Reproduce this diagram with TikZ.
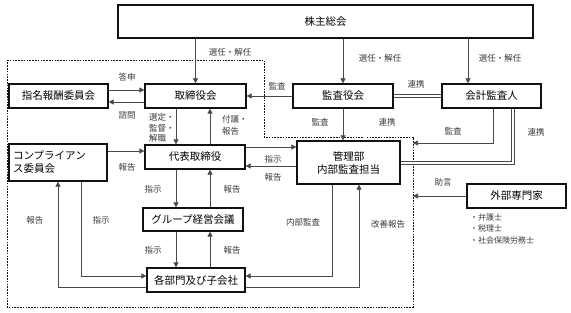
\documentclass[tikz,border=0pt]{standalone}
\usepackage{fontspec}
\setmainfont{Noto Sans CJK JP}
\usepackage{xcolor}
\usepackage{tikz}
\usetikzlibrary{arrows.meta,calc}
\definecolor{Ink}{HTML}{111111}
\definecolor{Wire}{HTML}{4A4A4A}
\definecolor{Muted}{HTML}{3A3A3A}

\begin{document}
\begin{tikzpicture}[x=1pt,y=-1pt,
  box/.style={draw=Ink,line width=1.2pt,fill=white,inner sep=0pt,font=\fontsize{10.5}{13}\selectfont},
  tag/.style={inner sep=0pt,font=\fontsize{8.5}{11}\selectfont\color{Muted}},
  edge/.style={-{Triangle[length=5pt,width=5pt]},draw=Wire,line width=0.7pt},
  link/.style={draw=Wire,line width=0.6pt,double,double distance=2.6pt},
  boundary/.style={draw=Ink,line width=0.6pt,dash pattern=on 1.6pt off 1.2pt}
]
  \useasboundingbox (0,0) rectangle (571,313);
  % group boundary
  \draw[boundary] (7,60) -- (264,60) -- (264,137) -- (413,137) -- (413,307) -- (7,307) -- cycle;
  \coordinate (bnd) at (413,0);
  % boxes
  \node[box,minimum width=415pt,minimum height=33pt] (gm) at (325.5,21.5) {株主総会};
  \node[box,minimum width=101pt,minimum height=24pt] (board) at (195.5,96) {取締役会};
  \node[box,minimum width=99pt,minimum height=24pt] (nomcom) at (58.5,96) {指名報酬委員会};
  \node[box,minimum width=100pt,minimum height=24pt] (audcom) at (343,96) {監査役会};
  \node[box,minimum width=99pt,minimum height=24pt] (accaud) at (491.5,96) {会計監査人};
  \node[box,minimum width=100pt,minimum height=24pt] (ceo) at (195,157) {代表取締役};
  \node[box,minimum width=103pt,minimum height=43pt,align=center] (admin) at (348.5,162.5) {管理部\\内部監査担当};
  \node[box,minimum width=98pt,minimum height=37pt,text width=90pt,align=left] (comp) at (58,162.5) {コンプライアン\\ス委員会};
  \node[box,minimum width=100pt,minimum height=23pt] (group) at (193,219.5) {グループ経営会議};
  \node[box,minimum width=98pt,minimum height=24pt] (depts) at (196,280) {各部門及び子会社};
  \node[box,minimum width=99pt,minimum height=24pt] (expert) at (516.5,196) {外部専門家};
  % lanes
  \coordinate (down) at (176,0);
  \coordinate (up) at (210,0);
  % shareholders
  \draw[edge] (board.north |- gm.south) -- (board.north);
  \draw[edge] (audcom.north |- gm.south) -- (audcom.north);
  \draw[edge] (468,0 |- gm.south) -- (468,0 |- accaud.north);
  \node[tag] (t1) at (230,52) {選任・解任};
  \node[tag] (t2) at (380,58) {選任・解任};
  \node[tag] (t3) at (500,58) {選任・解任};
  % nomination committee
  \draw[edge] (nomcom.east |- 0,90) -- (board.west |- 0,90);
  \draw[edge] (board.west |- 0,102) -- (nomcom.east |- 0,102);
  \node[tag] (t4) at (127,77) {答申};
  \node[tag] (t5) at (127,115) {諮問};
  % auditors
  \draw[edge] (audcom.west) -- (board.east);
  \node[tag] (t6) at (277,86) {監査};
  \draw[link] (audcom.east) -- (accaud.west);
  \node[tag] (t7) at (416,84) {連携};
  \draw[edge] (audcom.south) -- (audcom.south |- admin.north);
  \node[tag] (t8) at (320,122) {監査};
  \draw[link] (365.5,0 |- audcom.south) -- (365.5,0 |- admin.north);
  \node[tag] (t9) at (387,122) {連携};
  \draw[edge] (493,0 |- accaud.south) |- (bnd |- 0,143);
  \node[tag] (t10) at (453,131) {監査};
  \draw[link] (513,0 |- accaud.south) |- (admin.east |- 0,163);
  \node[tag] (t11) at (536,132) {連携};
  % board and ceo
  \draw[edge] (down |- board.south) -- (down |- ceo.north);
  \node[tag,anchor=west,align=left,font=\fontsize{8.5}{10.5}\selectfont\color{Muted}] (t12) at (149,128) {選定・\\監督・\\解職};
  \draw[edge] (up |- ceo.north) -- (up |- board.south);
  \node[tag,anchor=west,align=left,font=\fontsize{8.5}{12}\selectfont\color{Muted}] (t13) at (222,125) {付議・\\報告};
  \draw[edge] (comp.east |- 0,151) -- (ceo.west |- 0,151);
  \node[tag] (t14) at (127,167) {報告};
  \draw[edge] (ceo.east |- 0,147) -- (admin.west |- 0,147);
  \node[tag] (t15) at (273,159) {指示};
  \draw[edge] (admin.west |- 0,166) -- (ceo.east |- 0,166);
  \node[tag] (t16) at (273,177) {報告};
  % management chain
  \draw[edge] (down |- ceo.south) -- (down |- group.north);
  \node[tag] (t17) at (153,189) {指示};
  \draw[edge] (up |- group.north) -- (up |- ceo.south);
  \node[tag] (t18) at (232,189) {報告};
  \draw[edge] (down |- group.south) -- (down |- depts.north);
  \node[tag] (t19) at (153,250) {指示};
  \draw[edge] (up |- depts.north) -- (up |- group.south);
  \node[tag] (t20) at (232,250) {報告};
  % compliance and internal audit
  \draw[edge] (81,0 |- comp.south) |- (depts.west |- 0,276);
  \node[tag] (t21) at (101,220) {指示};
  \draw[edge] (depts.west |- 0,287) -| (58,0 |- comp.south);
  \node[tag] (t22) at (35,220) {報告};
  \draw[edge] (332,0 |- admin.south) |- (depts.east |- 0,276);
  \node[tag] (t23) at (303,222) {内部監査};
  \draw[edge] (depts.east |- 0,287) -| (359,0 |- admin.south);
  \node[tag] (t24) at (388,224) {改善報告};
  % outside experts
  \draw[edge] (expert.west) -- (bnd |- expert.west);
  \node[tag] (t25) at (443,182) {助言};
  \node[tag,anchor=west,align=left,font=\fontsize{8}{11.5}\selectfont\color{Muted}] (t26) at (470,228.5) {・弁護士\\・税理士\\・社会保険労務士};
\end{tikzpicture}
\end{document}
